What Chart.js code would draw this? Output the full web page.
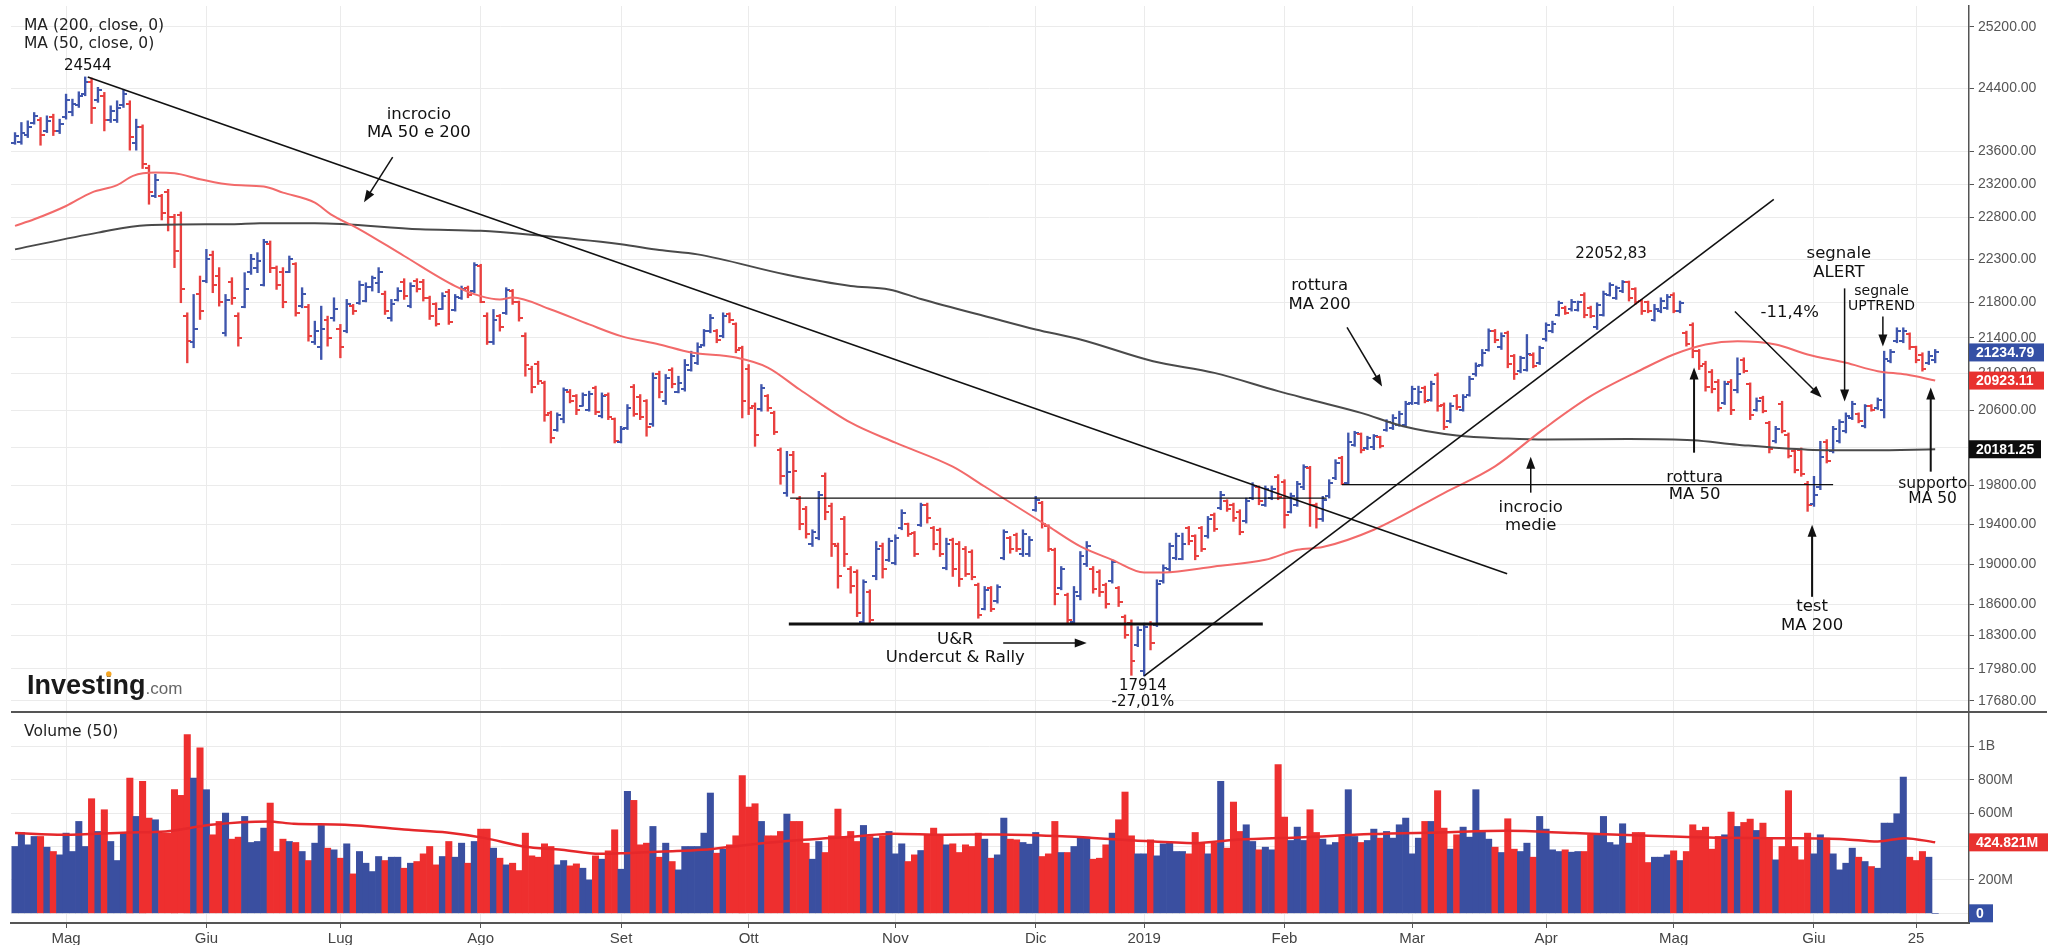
<!DOCTYPE html>
<html>
<head>
<meta charset="utf-8">
<script src="https://cdn.jsdelivr.net/npm/chart.js@4.4.1/dist/chart.umd.min.js"></script>
<style>
  html, body { margin: 0; padding: 0; background: #fff; }
  canvas { display: block; }
</style>
</head>
<body>
<canvas id="myChart" width="2060" height="945"></canvas>
<script>
// trading-day index of each month label on the x axis
const monthIdx = [8, 30, 51, 73, 95, 115, 138, 160, 177, 199, 219, 240, 260, 282, 298];
const monthLabels = ['Mag', 'Giu', 'Lug', 'Ago', 'Set', 'Ott', 'Nov', 'Dic', '2019', 'Feb', 'Mar', 'Apr', 'Mag', 'Giu', '25'];

const priceTicks = [25200, 24400, 23600, 23200, 22800, 22300, 21800, 21400, 21000, 20600, 20200, 19800, 19400, 19000, 18600, 18300, 17980, 17680];
const volTicks = [0, 200e6, 400e6, 600e6, 800e6, 1e9];

// daily OHLC
const opens = [
  23710,23720,23800,23960,24000,23850,24030,23850,24030,24100,
  24180,24330,24480,24250,24300,24000,24000,24180,24200,23700,
  23900,23400,23060,23050,23100,22800,22830,21650,21350,21900,
  22050,22350,22100,21450,22040,21650,21750,22150,22200,22000,
  22480,22200,22150,22150,22250,21760,21750,21350,21300,21600,
  21620,21500,21480,21760,21790,21820,21980,22020,21900,21620,
  21830,22030,21760,22050,22040,21850,21780,21730,21920,21710,
  21850,21970,21930,22220,21650,21350,21640,21680,21930,21800,
  21420,21050,21110,20900,20570,20390,20500,20800,20750,20650,
  20600,20840,20540,20760,20500,20260,20410,20850,20740,20700,
  20450,20990,20700,21040,20800,20830,21040,21120,21320,21470,
  21480,21420,21670,21550,21280,21050,20650,20610,20750,20570,
  20170,19720,20120,19660,19560,19200,19260,19900,19590,19180,
  19450,18950,18920,18430,18720,18880,19180,19040,19010,19360,
  19400,19310,19390,19600,19360,19340,18960,19240,19200,19150,
  19120,18790,18560,18760,18630,19060,19260,19290,19100,19100,
  19550,19620,19380,19140,18760,18690,18430,18680,19000,18950,
  18920,18790,18830,18760,18480,18420,18210,17960,18410,18400,
  18830,18950,19060,19050,19360,19280,19360,19280,19500,19570,
  19640,19600,19530,19430,19670,19780,19600,19670,19890,19840,
  19530,19600,19780,19980,19600,19450,19690,19880,20090,19830,
  20230,20340,20190,20200,20310,20390,20410,20440,20440,20680,
  20680,20840,20710,20980,20660,20480,20750,20600,20770,20990,
  21100,21260,21480,21290,21450,21190,21030,21040,21210,21120,
  21380,21470,21660,21740,21720,21710,21890,21740,21520,21660,
  21890,21850,21930,22030,21950,21820,21800,21600,21700,21740,
  21890,21700,21450,21540,21250,21110,21020,20910,20680,20910,
  20820,21150,20880,20600,20730,20460,20270,20670,20330,20160,
  20170,19820,19610,19780,20260,20160,20270,20380,20520,20560,
  20430,20650,20620,20600,21140,21360,21360,21440,21290,21210,
  21120,21150
];
const highs = [
  23836,23963,23984,24089,24026,24047,24068,24005,24323,24259,
  24353,24544,24530,24410,24345,24174,24238,24375,24238,24005,
  23933,23431,23320,23075,23136,22834,22862,21682,21892,22105,
  22417,22397,22203,21892,22086,21682,22144,22358,22378,22536,
  22516,22222,22203,22339,22261,21970,21778,21587,21758,21644,
  21854,21550,21835,21778,22047,22027,22105,22203,21931,21835,
  21970,22074,22027,22074,22066,21873,21797,21912,21950,21892,
  21989,21989,22261,22242,21682,21720,21663,21970,21950,21816,
  21455,21082,21137,20917,20589,20571,20843,20825,20770,20788,
  20807,20862,20788,20788,20516,20426,20661,20880,20770,20715,
  21008,21027,20990,21064,20971,21156,21249,21343,21493,21663,
  21493,21682,21682,21568,21305,21100,20679,20880,20770,20589,
  20195,20159,20159,19688,19584,19345,19740,19932,19618,19210,
  19481,18975,18942,18843,18744,19226,19210,19260,19294,19550,
  19413,19328,19618,19618,19379,19362,19260,19260,19226,19176,
  19142,18810,18777,18777,18794,19345,19277,19311,19345,19277,
  19688,19636,19396,19159,18975,18711,18777,19125,19226,18975,
  18942,18810,19042,18777,18498,18450,18385,18418,18434,18843,
  18992,19210,19311,19311,19379,19294,19379,19481,19516,19740,
  19653,19618,19550,19670,19830,19796,19796,19796,19914,19861,
  19722,19844,20018,20001,19618,19688,19861,20071,20107,20355,
  20373,20355,20320,20338,20320,20498,20552,20589,20697,20862,
  20862,20862,20917,21008,20679,20679,20770,20770,20971,21119,
  21268,21500,21493,21455,21474,21212,21193,21436,21231,21305,
  21568,21587,21816,21758,21835,21816,21912,21758,21797,21931,
  22027,21989,22053,22047,21970,21835,21816,21778,21854,21892,
  21912,21816,21474,21568,21268,21137,21045,20935,20917,20935,
  21175,21175,20898,20733,20752,20480,20426,20697,20355,20177,
  20195,19844,19896,20266,20284,20426,20498,20571,20697,20571,
  20661,20661,20733,21249,21268,21512,21512,21455,21305,21231,
  21249,21268
];
const lows = [
  23690,23690,23774,23942,23678,23836,23799,23824,24005,24047,
  24153,24302,23950,24218,23857,23963,23963,24153,23617,23617,
  23390,22955,23035,22766,22635,22203,21797,21119,21287,21606,
  22027,21912,21758,21418,21778,21305,21739,22124,22144,21989,
  22144,21950,21739,22144,21644,21739,21361,21324,21156,21305,
  21587,21175,21455,21663,21778,21806,21931,21912,21663,21587,
  21816,21835,21739,21920,21816,21606,21531,21720,21550,21701,
  21835,21854,21912,21797,21324,21324,21474,21663,21778,21587,
  20971,20788,20880,20480,20248,20373,20463,20679,20552,20643,
  20589,20552,20516,20498,20248,20248,20391,20534,20498,20320,
  20426,20733,20661,20843,20788,20807,21027,21100,21305,21455,
  21343,21399,21568,21231,20516,20552,20212,20589,20589,20338,
  19813,19688,19722,19345,19260,19176,19243,19447,19075,18760,
  18975,18711,18482,18418,18418,18843,18860,19025,18992,19345,
  19277,19075,19379,19413,19142,19075,18942,18876,18777,18876,
  18843,18466,18547,18531,18613,19042,19108,19125,19075,19075,
  19533,19362,19125,18596,18744,18418,18418,18645,18975,18711,
  18678,18564,18810,18580,18272,17920,18192,17914,18161,18385,
  18810,18925,19042,19042,19193,19042,19125,19260,19328,19550,
  19533,19430,19294,19413,19653,19601,19584,19653,19653,19362,
  19516,19584,19757,19379,19362,19430,19670,19861,19809,19809,
  20212,20142,20177,20177,20195,20373,20391,20426,20426,20661,
  20661,20679,20697,20589,20391,20463,20607,20589,20752,20971,
  21082,21249,21343,21268,21064,20935,21008,21027,21064,21100,
  21361,21455,21644,21663,21701,21701,21625,21625,21493,21644,
  21873,21835,21912,21816,21778,21663,21682,21587,21682,21720,
  21682,21682,21305,21175,21045,20807,20788,20589,20661,20552,
  20788,21008,20498,20589,20571,20142,20248,20355,20089,19932,
  19896,19533,19584,19757,20036,20142,20248,20355,20498,20463,
  20409,20589,20607,20516,21119,21343,21343,21268,21119,21027,
  21100,21119
];
const closes = [
  23790,23830,23900,24040,23800,23980,23860,23950,24250,24200,
  24300,24480,24150,24380,23990,24110,24150,24330,23780,23900,
  23440,23100,23250,22850,22800,22400,21950,21360,21500,21700,
  22300,22000,21800,21830,21850,21400,21950,22300,22280,22500,
  22200,22000,21800,22300,21680,21900,21420,21480,21500,21400,
  21730,21300,21780,21700,22000,21980,22080,22150,21700,21780,
  21930,21870,21990,21950,21850,21650,21550,21870,21580,21860,
  21960,21880,22230,21810,21350,21600,21520,21940,21800,21620,
  21100,20850,20920,20550,20300,20550,20820,20700,20600,20760,
  20780,20580,20750,20530,20270,20400,20620,20560,20530,20420,
  20950,20800,20950,20880,20900,21100,21200,21300,21470,21620,
  21370,21650,21600,21260,20700,20620,20330,20840,20620,20360,
  19900,19940,19950,19400,19300,19320,19700,19530,19200,18880,
  19100,18780,18520,18820,18450,19150,18950,19230,19260,19520,
  19300,19100,19600,19460,19200,19100,19200,18950,18850,18900,
  18870,18500,18740,18560,18770,19320,19150,19150,19300,19240,
  19650,19400,19150,18700,18950,18450,18720,19080,19180,18750,
  18720,18600,19020,18620,18300,18060,18350,18380,18230,18800,
  18960,19180,19280,19200,19230,19080,19150,19450,19350,19700,
  19560,19470,19320,19640,19800,19640,19760,19760,19680,19500,
  19690,19820,19990,19600,19450,19650,19830,20040,19820,20260,
  20350,20170,20300,20320,20220,20470,20520,20560,20670,20830,
  20800,20700,20880,20640,20420,20650,20630,20740,20940,21080,
  21230,21470,21370,21420,21110,20990,21170,21220,21080,21280,
  21540,21560,21790,21680,21810,21800,21660,21640,21770,21900,
  22000,21970,22040,21850,21800,21700,21700,21730,21820,21860,
  21700,21790,21330,21250,21080,20850,20830,20620,20880,20600,
  21000,21030,20550,20700,20590,20180,20400,20380,20110,19960,
  19920,19600,19700,20100,20060,20400,20470,20540,20670,20480,
  20640,20600,20710,21160,21240,21480,21470,21290,21150,21050,
  21200,21234.79
];

// daily volume in millions
const volumeM = [
  400,484,410,460,460,396,370,350,480,370,
  550,400,686,490,620,430,316,480,810,580,
  790,570,560,480,480,740,706,1070,810,990,
  740,470,550,600,444,456,580,424,430,510,
  660,370,444,430,424,370,316,420,526,390,
  380,330,416,236,370,300,250,340,316,336,
  336,270,300,310,356,400,290,340,430,336,
  420,300,430,504,504,390,330,290,300,256,
  480,344,336,416,400,290,316,284,296,270,
  200,344,324,374,500,264,730,676,410,420,
  520,336,420,310,260,400,400,400,480,720,
  360,384,410,464,824,636,656,550,464,464,
  490,594,550,550,420,324,430,364,464,624,
  460,490,430,526,460,450,464,490,356,416,
  310,350,376,470,510,470,410,416,364,410,
  400,480,444,330,350,
  570,444,440,424,414,484,340,356,550,364,
  364,400,456,456,324,330,410,480,560,726,
  464,356,356,440,344,416,424,370,370,356,
  484,420,356,420,790,390,666,490,530,430,
  380,396,380,890,576,436,516,436,620,484,
  444,410,424,460,740,460,424,436,504,450,
  490,450,530,570,356,450,550,550,734,510,
  384,470,516,456,740,490,444,396,364,566,
  384,370,420,336,580,504,380,370,380,366,
  370,370,470,470,580,424,410,536,420,484,
  484,304,336,336,350,374,316,370,530,496,
  516,384,460,470,606,520,544,564,496,540,
  450,320,400,734,400,320,480,356,470,450,
  356,260,300,390,336,310,280,270,540,540,
  596,816,336,316,370,336,0
];

// moving averages read at points along the curves: [day index, value]
const ma50 = [
  [0,22696],[3,22774],[8,22934],[12,23096],[16,23186],[18.5,23300],[22,23340],[25,23332],
  [29,23259],[34,23190],[39,23170],[42,23096],[47,22975],[49.5,22834],[54,22655],[61,22339],
  [69,21989],[73,21873],[76,21835],[78,21858],[84,21720],[90,21550],[95,21418],[101,21324],
  [106,21234],[113,21178],[118,21067],[123,20825],[131,20465],[138,20251],[147,19997],
  [152,19790],[162,19379],[167,19176],[172,19042],[177,18916],[180,18916],[188,18975],
  [196,19042],[201,19142],[205,19170],[213,19345],[224,19722],[232,20001],[239.5,20391],
  [247,20752],[255,21045],[260,21212],[265,21324],[270,21361],[276,21324],[281,21212],
  [287,21119],[292,21027],[296.5,20990],[301,20923.11]
];
const ma200 = [
  [0,22417],[13,22615],[20.6,22704],[34,22716],[38.4,22728],[47,22728],[63.5,22655],
  [73,22636],[80,22596],[95,22477],[101,22409],[107,22358],[121,22120],[131,21990],
  [137,21950],[142,21840],[153,21625],[160,21493],[167,21380],[178.4,21137],[188,21008],
  [198,20807],[203,20715],[211,20571],[217.6,20426],[226,20327],[234,20295],[240,20284],
  [253,20291],[263,20277],[270,20230],[281,20177],[291,20170],[301,20181.25]
];
const volMaM = [
  [0,480],[7.6,470],[17.7,484],[23.6,490],[30.7,530],[39.7,550],[43.7,536],[51.7,530],
  [61.7,500],[67.7,484],[73.7,450],[79.7,400],[85.7,380],[91.7,356],[95.7,360],[101.7,370],
  [107.7,380],[115.7,414],[123.7,440],[131.7,460],[137.7,476],[145.7,470],[154,472],
  [165,460],[175.5,436],[185,420],[191.4,440],[202,456],[212.6,474],[223.2,484],
  [233.8,494],[244.4,480],[255,466],[265.5,454],[276,450],[286.7,444],[292,430],
  [296.2,450],[301,424.821]
];

// drawn annotations, in [day index, price]
const trendLines = [
  { from: [11.4, 24544], to: [233.9, 18902], width: 1.6 },
  { from: [177, 17914], to: [275.7, 23015], width: 1.6 },
  { from: [121.5, 19670], to: [205.6, 19670], width: 1.2 },
  { from: [208, 19810], to: [285, 19810], width: 1.2 },
  { from: [121.3, 18411], to: [195.6, 18411], width: 3 }
];
const arrows = [
  { from: [59.2, 23530], to: [54.7, 22979], width: 1.5 },
  { from: [154.9, 18228], to: [168, 18228], width: 1.5 },
  { from: [208.8, 21516], to: [214.3, 20858], width: 1.5 },
  { from: [237.6, 19726], to: [237.6, 20103], width: 1.5 },
  { from: [269.6, 21697], to: [283.2, 20737], width: 1.5 },
  { from: [286.8, 21962], to: [286.8, 20694], width: 1.5 },
  { from: [292.8, 21640], to: [292.8, 21302], width: 1.5 },
  { from: [263.2, 20145], to: [263.2, 21067], width: 2 },
  { from: [281.7, 18675], to: [281.7, 19396], width: 2 },
  { from: [300.3, 19945], to: [300.3, 20847], width: 2 }
];
const notes = [
  { at: [11.4, 24686], text: '24544', size: 15 },
  { at: [63.3, 24055], text: 'incrocio', size: 16.5 },
  { at: [63.3, 23829], text: 'MA 50 e 200', size: 16.5 },
  { at: [147.4, 18257], text: 'U&R', size: 16.5 },
  { at: [147.4, 18084], text: 'Undercut & Rally', size: 16.5 },
  { at: [176.8, 17820], text: '17914', size: 15 },
  { at: [176.8, 17670], text: '-27,01%', size: 15 },
  { at: [204.5, 21989], text: 'rottura', size: 16.5 },
  { at: [204.5, 21778], text: 'MA 200', size: 16.5 },
  { at: [250.2, 22358], text: '22052,83', size: 15 },
  { at: [237.6, 19571], text: 'incrocio', size: 16.5 },
  { at: [237.6, 19386], text: 'medie', size: 16.5 },
  { at: [278.2, 21686], text: '-11,4%', size: 16.5 },
  { at: [285.9, 22370], text: 'segnale', size: 16.5 },
  { at: [285.9, 22148], text: 'ALERT', size: 16.5 },
  { at: [292.6, 21927], text: 'segnale', size: 14 },
  { at: [292.6, 21754], text: 'UPTREND', size: 14 },
  { at: [263.3, 19882], text: 'rottura', size: 16.5 },
  { at: [263.3, 19705], text: 'MA 50', size: 16.5 },
  { at: [281.7, 18576], text: 'test', size: 16.5 },
  { at: [281.7, 18392], text: 'MA 200', size: 16.5 },
  { at: [300.6, 19819], text: 'supporto', size: 15.5 },
  { at: [300.6, 19663], text: 'MA 50', size: 15.5 }
];

const BLUE = '#3f56ad';
const RED = '#e9403f';
const VOL_BLUE = '#3a4fa0';
const VOL_RED = '#ee2f2f';
const ANNO_FONT = '"DejaVu Sans", sans-serif';
const AXIS_FONT = '"Liberation Sans", Arial, sans-serif';

const isUp = closes.map((c, i) => c >= opens[i]);

function tickImage(color, side) {
    var c = document.createElement('canvas');
    c.width = 8;
    c.height = 2;
    var g = c.getContext('2d');
    g.fillStyle = color;
    g.fillRect(side === 'open' ? 0 : 4, 0, 4, 2);
    return c;
}
const openBlue = tickImage(BLUE, 'open'), openRed = tickImage(RED, 'open');
const closeBlue = tickImage(BLUE, 'close'), closeRed = tickImage(RED, 'close');

function drawArrow(ctx, x1, y1, x2, y2, width) {
    var ang = Math.atan2(y2 - y1, x2 - x1);
    var len = 12, half = 4.5;
    ctx.lineWidth = width;
    ctx.beginPath();
    ctx.moveTo(x1, y1);
    ctx.lineTo(x2 - Math.cos(ang) * len * 0.8, y2 - Math.sin(ang) * len * 0.8);
    ctx.stroke();
    ctx.beginPath();
    ctx.moveTo(x2, y2);
    ctx.lineTo(x2 - Math.cos(ang) * len - Math.sin(ang) * half, y2 - Math.sin(ang) * len + Math.cos(ang) * half);
    ctx.lineTo(x2 - Math.cos(ang) * len + Math.sin(ang) * half, y2 - Math.sin(ang) * len - Math.cos(ang) * half);
    ctx.closePath();
    ctx.fill();
}

const overlay = {
    id: 'overlay',
    afterDatasetsDraw(chart) {
        const ctx = chart.ctx;
        const xs = chart.scales.x, ys = chart.scales.y, yv = chart.scales.yVol;
        const area = chart.chartArea;
        const pt = p => [xs.getPixelForValue(p[0]), ys.getPixelForValue(p[1])];

        ctx.save();
        ctx.strokeStyle = '#111';
        ctx.fillStyle = '#111';
        ctx.lineCap = 'butt';

        trendLines.forEach(l => {
            const a = pt(l.from), b = pt(l.to);
            ctx.lineWidth = l.width;
            ctx.beginPath();
            ctx.moveTo(a[0], a[1]);
            ctx.lineTo(b[0], b[1]);
            ctx.stroke();
        });

        arrows.forEach(a => {
            const p = pt(a.from), q = pt(a.to);
            drawArrow(ctx, p[0], p[1], q[0], q[1], a.width);
        });

        ctx.textAlign = 'center';
        ctx.textBaseline = 'middle';
        notes.forEach(n => {
            const p = pt(n.at);
            ctx.font = n.size + 'px ' + ANNO_FONT;
            ctx.fillText(n.text, p[0], p[1]);
        });

        // panel separator
        const sepY = ys.bottom;
        ctx.strokeStyle = '#555';
        ctx.lineWidth = 2;
        ctx.beginPath();
        ctx.moveTo(area.left, sepY);
        ctx.lineTo(2047, sepY);
        ctx.stroke();

        // headers
        ctx.textAlign = 'left';
        ctx.textBaseline = 'alphabetic';
        ctx.fillStyle = '#222';
        ctx.font = '15.5px ' + ANNO_FONT;
        ctx.fillText('MA (200, close, 0)', 24, 30);
        ctx.fillText('MA (50, close, 0)', 24, 48);
        ctx.fillText('Volume (50)', 24, 736);

        // logo
        ctx.font = 'bold 27px ' + AXIS_FONT;
        ctx.fillStyle = '#1a1a1a';
        ctx.fillText('Investing', 27, 694);
        const w1 = ctx.measureText('Investing').width;
        const wI = ctx.measureText('Invest').width;
        const wi = ctx.measureText('i').width;
        ctx.fillStyle = '#f5a623';
        ctx.beginPath();
        ctx.arc(27 + wI + wi / 2, 674, 2.7, 0, Math.PI * 2);
        ctx.fill();
        ctx.font = '17px ' + AXIS_FONT;
        ctx.fillStyle = '#666';
        ctx.fillText('.com', 27 + w1, 694);

        // last value boxes on the right axis
        const boxes = [
            { y: ys.getPixelForValue(closes[closes.length - 1]), text: closes[closes.length - 1].toFixed(2), color: '#3550a5', w: 75 },
            { y: ys.getPixelForValue(ma50[ma50.length - 1][1]), text: ma50[ma50.length - 1][1].toFixed(2), color: '#e8312f', w: 75 },
            { y: ys.getPixelForValue(ma200[ma200.length - 1][1]), text: ma200[ma200.length - 1][1].toFixed(2), color: '#0d0d0d', w: 72 },
            { y: yv.getPixelForValue(volMaM[volMaM.length - 1][1] * 1e6), text: volMaM[volMaM.length - 1][1].toFixed(3) + 'M', color: '#e8312f', w: 79 },
            { y: yv.getPixelForValue(volumeM[volumeM.length - 1] * 1e6), text: '0', color: '#3550a5', w: 24 }
        ];
        ctx.font = 'bold 14px ' + AXIS_FONT;
        ctx.textBaseline = 'middle';
        boxes.forEach(b => {
            ctx.fillStyle = b.color;
            ctx.fillRect(area.right, b.y - 9, b.w, 18);
            ctx.fillStyle = '#fff';
            ctx.textAlign = 'left';
            ctx.fillText(b.text, area.right + 7, b.y + 1);
        });
        ctx.restore();
    }
};

const gridColor = '#ebebeb';

function fitRightAxis(s) {
    s.width = 91;
    s.paddingTop = 0;
    s.paddingBottom = 0;
}

const ctx = document.getElementById('myChart').getContext('2d');
const myChart = new Chart(ctx, {
    type: 'bar',
    data: {
        datasets: [
            {
                type: 'line',
                data: ma50.map(p => ({ x: p[0], y: p[1] })),
                yAxisID: 'y',
                borderColor: '#f26a6a',
                borderWidth: 2,
                pointRadius: 0,
                tension: 0.4,
                cubicInterpolationMode: 'monotone',
                order: 2
            },
            {
                type: 'line',
                data: ma200.map(p => ({ x: p[0], y: p[1] })),
                yAxisID: 'y',
                borderColor: '#4a4a4a',
                borderWidth: 2,
                pointRadius: 0,
                tension: 0.4,
                cubicInterpolationMode: 'monotone',
                order: 3
            },
            {
                type: 'scatter',
                data: opens.map((v, i) => ({ x: i, y: v })),
                yAxisID: 'y',
                pointStyle: c => isUp[c.dataIndex] ? openBlue : openRed,
                pointRadius: 3,
                order: 6
            },
            {
                type: 'scatter',
                data: closes.map((v, i) => ({ x: i, y: v })),
                yAxisID: 'y',
                pointStyle: c => isUp[c.dataIndex] ? closeBlue : closeRed,
                pointRadius: 3,
                order: 6
            },
            {
                type: 'bar',
                data: highs.map((h, i) => ({ x: i, y: [lows[i], h] })),
                yAxisID: 'y',
                backgroundColor: isUp.map(u => u ? BLUE : RED),
                barThickness: 1.7,
                grouped: false,
                order: 7
            },
            {
                type: 'line',
                data: volMaM.map(p => ({ x: p[0], y: p[1] * 1e6 })),
                yAxisID: 'yVol',
                borderColor: '#e5282b',
                borderWidth: 2.5,
                pointRadius: 0,
                tension: 0.4,
                cubicInterpolationMode: 'monotone',
                order: 4
            },
            {
                type: 'bar',
                data: volumeM.map((v, i) => ({ x: i, y: v * 1e6 })),
                yAxisID: 'yVol',
                backgroundColor: isUp.map(u => u ? VOL_BLUE : VOL_RED),
                barPercentage: 1,
                categoryPercentage: 1,
                grouped: false,
                order: 8
            }
        ]
    },
    options: {
        responsive: false,
        animation: false,
        events: [],
        layout: { padding: { left: 11, top: 6, right: 0, bottom: 0 } },
        plugins: {
            legend: { display: false },
            tooltip: { enabled: false }
        },
        scales: {
            x: {
                type: 'linear',
                min: -0.63,
                max: 306.3,
                offset: false,
                afterBuildTicks: s => { s.ticks = monthIdx.map(v => ({ value: v })); },
                afterFit: s => { s.height = 22; },
                ticks: {
                    autoSkip: false,
                    maxRotation: 0,
                    padding: 2,
                    color: '#444',
                    font: { family: AXIS_FONT, size: 15 },
                    callback: v => monthLabels[monthIdx.indexOf(v)]
                },
                grid: { color: gridColor, tickColor: '#555', tickLength: 5, offset: false },
                border: { color: '#555', width: 2 }
            },
            y: {
                type: 'logarithmic',
                position: 'right',
                stack: 'panels',
                stackWeight: 706,
                min: 17578,
                max: 25476,
                afterBuildTicks: s => { s.ticks = priceTicks.map(v => ({ value: v })); },
                afterFit: fitRightAxis,
                ticks: {
                    autoSkip: false,
                    padding: 4,
                    color: '#555',
                    font: { family: AXIS_FONT, size: 14 },
                    callback: v => Number(v).toFixed(2)
                },
                grid: { color: gridColor, tickColor: '#555', tickLength: 5 },
                border: { color: '#555', width: 1.5 }
            },
            yVol: {
                type: 'linear',
                position: 'right',
                stack: 'panels',
                stackWeight: 211,
                min: -58e6,
                max: 1205e6,
                afterBuildTicks: s => { s.ticks = volTicks.map(v => ({ value: v })); },
                afterFit: fitRightAxis,
                ticks: {
                    autoSkip: false,
                    padding: 4,
                    color: '#555',
                    font: { family: AXIS_FONT, size: 14 },
                    callback: v => v === 0 ? '0' : (v >= 1e9 ? (v / 1e9) + 'B' : (v / 1e6) + 'M')
                },
                grid: { color: gridColor, tickColor: '#555', tickLength: 5 },
                border: { color: '#555', width: 1.5 }
            }
        }
    },
    plugins: [overlay]
});
</script>
</body>
</html>
